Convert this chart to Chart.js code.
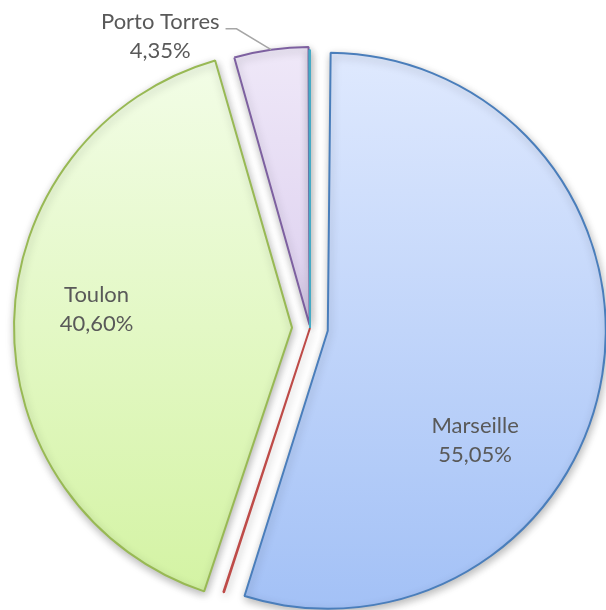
<!doctype html>
<html lang="fr">
<head>
  <meta charset="utf-8">
  <title>Répartition par port</title>
  <style>
    * { margin: 0; padding: 0; }
    body { background: white; overflow: hidden; }
    .chartBox { width: 606px; height: 610px; }
  </style>
</head>
<body>
<div class="chartBox">
  <canvas id="myChart" width="606" height="610"></canvas>
</div>

<script src="https://cdn.jsdelivr.net/npm/chart.js"></script>
<script>
  // data (slices clockwise from 12 o'clock)
  const categories = ['Marseille', '', 'Toulon', 'Porto Torres', ''];
  const shares = [55.05, 0.04, 40.60, 4.35, 0.04];

  // styling
  const pieRadius = 278;
  const borderColors = ['#4a7ebb', '#be4b48', '#98b954', '#7d60a0', '#46aac5'];
  const gradTop = ['#dfe9fe', '#e9b0ae', '#f3fde8', '#efe8f8', '#b8e2ee'];
  const gradBottom = ['#a3c1f6', '#d98c8a', '#d3f3a2', '#cbb8e6', '#8fd0e2'];
  const offsets = [72, 0, 72, 12, 0];
  // label spot: angle (deg, canvas coords) and distance as fraction of radius
  const labelPlace = [
    { angle: 36.6, r: 0.66 },
    null,
    { angle: 185.3, r: 0.706 },
    { angle: 242.7, r: 1.171, leader: true },
    null
  ];

  function fmt(v) {
    return v.toFixed(2).replace('.', ',') + '%';
  }

  function sliceFill(context) {
    const i = context.dataIndex;
    const { ctx, chartArea } = context.chart;
    if (!chartArea) return gradTop[i];
    const cy = (chartArea.top + chartArea.bottom) / 2;
    const g = ctx.createLinearGradient(0, cy - pieRadius, 0, cy + pieRadius);
    g.addColorStop(0, gradTop[i]);
    g.addColorStop(1, gradBottom[i]);
    return g;
  }

  // Chart.js grows an exploded slice's radius; keep all slices the same size
  const sameRadiusPlugin = {
    id: 'sameRadius',
    afterDatasetUpdate(chart) {
      chart.getDatasetMeta(0).data.forEach(arc => {
        const fix = 1 - Math.sin(Math.min(Math.PI, arc.circumference));
        arc.outerRadius = pieRadius - (arc.options.offset || 0) / 4 * fix;
      });
    }
  };

  // soft shadow under the slices
  const shadowPlugin = {
    id: 'shadow',
    beforeDatasetsDraw(chart) {
      const ctx = chart.ctx;
      ctx.save();
      ctx.shadowColor = 'rgba(0,0,0,0.28)';
      ctx.shadowBlur = 8;
      ctx.shadowOffsetX = 1;
      ctx.shadowOffsetY = 3;
    },
    afterDatasetsDraw(chart) {
      chart.ctx.restore();
    }
  };

  // category + percentage labels
  const labelPlugin = {
    id: 'sliceLabels',
    afterDatasetsDraw(chart) {
      const ctx = chart.ctx;
      const meta = chart.getDatasetMeta(0);
      ctx.save();
      ctx.font = '22px Lato';
      ctx.fillStyle = '#595959';
      ctx.textAlign = 'center';
      ctx.textBaseline = 'alphabetic';
      meta.data.forEach((arc, i) => {
        const place = labelPlace[i];
        if (!place) return;
        const mid = (arc.startAngle + arc.endAngle) / 2;
        const t = (arc.options.offset || 0) / 4;
        const cx = arc.x + Math.cos(mid) * t;
        const cy = arc.y + Math.sin(mid) * t;
        const a = place.angle * Math.PI / 180;
        const lx = cx + Math.cos(a) * pieRadius * place.r;
        const ly = cy + Math.sin(a) * pieRadius * place.r;
        ctx.fillText(categories[i], lx, ly - 7);
        ctx.fillText(fmt(shares[i]), lx, ly + 22);
        if (place.leader) {
          const w = ctx.measureText(categories[i]).width;
          const sx = lx + w / 2 + 6;
          const sy = ly - 7;
          ctx.beginPath();
          ctx.strokeStyle = '#a6a6a6';
          ctx.lineWidth = 1.5;
          ctx.moveTo(sx, sy);
          ctx.lineTo(sx + 11, sy);
          ctx.lineTo(cx + Math.cos(mid) * pieRadius, cy + Math.sin(mid) * pieRadius);
          ctx.stroke();
        }
      });
      ctx.restore();
    }
  };

  const config = {
    type: 'pie',
    data: {
      labels: categories,
      datasets: [{
        data: shares,
        backgroundColor: sliceFill,
        borderColor: borderColors,
        borderWidth: 2,
        offset: offsets,
        hoverOffset: 0,
        clip: false
      }]
    },
    options: {
      responsive: false,
      animation: false,
      events: [],
      radius: pieRadius,
      layout: { padding: { left: 14, right: 0, top: 46, bottom: 0 } },
      plugins: {
        legend: { display: false },
        tooltip: { enabled: false }
      }
    },
    plugins: [sameRadiusPlugin, shadowPlugin, labelPlugin]
  };

  const myChart = new Chart(document.getElementById('myChart'), config);
</script>
</body>
</html>
